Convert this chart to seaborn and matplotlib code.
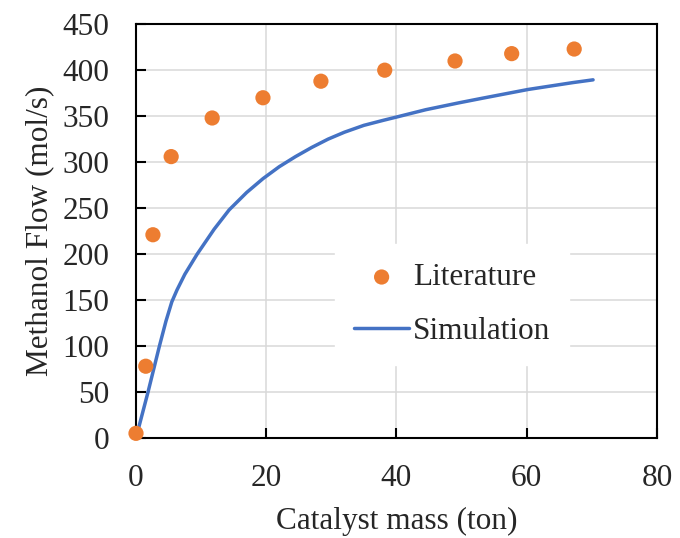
import numpy as np
import pandas as pd
import seaborn as sns
import matplotlib
matplotlib.use("Agg")
import matplotlib.pyplot as plt

## Data
lit_mass = [0, 1.5, 2.6, 5.4, 11.7, 19.5, 28.4, 38.2, 49.0, 57.7, 67.3]
lit_flow = [5, 78, 221, 306, 348, 370, 388, 400, 410, 418, 423]

sim_mass = [0, 1.85, 3.6, 4.6, 5.5, 6.3, 7.5, 9.4, 12.0, 14.3, 17.0, 19.5, 22.0, 24.5,
            27.0, 29.5, 32.0, 35.0, 38.0, 40.0, 44.5, 49.6, 53.2, 60.2, 67.1, 70.2]
sim_flow = [0, 50, 100, 127, 148, 161, 178, 200, 227, 248, 267, 282, 295, 306,
            316, 325, 332.5, 340, 345.5, 349, 357, 364.5, 369.5, 379, 386.5, 389.5]

lit = pd.DataFrame({'mass': lit_mass, 'flow': lit_flow})
sim = pd.DataFrame({'mass': sim_mass, 'flow': sim_flow})

sns.set_style('ticks')
plt.rcParams['font.family'] = ['Liberation Serif', 'DejaVu Serif']
fs = 22.5

fig = plt.figure(figsize=(6.8, 5.38), dpi=100)
ax = fig.add_axes([0.2, 0.186, 0.766, 0.769])

ax.grid(True, color='#d9d9d9', linewidth=1.1)
ax.set_axisbelow(True)

sns.lineplot(data=sim, x='mass', y='flow', color='#4472C4', linewidth=2.5,
             label='Simulation', ax=ax, zorder=2)
sns.scatterplot(data=lit, x='mass', y='flow', color='#ED7D31', s=120,
                edgecolor='none', label='Literature', ax=ax, zorder=3, clip_on=False)

ax.set_xlim(0, 80)
ax.set_ylim(0, 450)
ax.set_xticks(range(0, 81, 20))
ax.set_yticks(range(0, 451, 50))

for s in ax.spines.values():
    s.set_color('black')
    s.set_linewidth(1.5)

ax.tick_params(direction='in', length=7, width=1.5, labelsize=fs, color='black')
ax.tick_params(axis='x', pad=19)
ax.tick_params(axis='y', pad=19)

ax.set_xlabel('Catalyst mass (ton)', fontsize=fs, labelpad=10)
ax.set_ylabel('Methanol Flow (mol/s)', fontsize=fs, labelpad=6)

handles, labels = ax.get_legend_handles_labels()
order = [labels.index('Literature'), labels.index('Simulation')]
leg = ax.legend([handles[i] for i in order], [labels[i] for i in order],
                loc='center', bbox_to_anchor=(0.607, 0.322), fontsize=fs,
                frameon=True, fancybox=False, facecolor='white', edgecolor='white',
                framealpha=1, labelspacing=0.8, borderpad=0.6,
                handlelength=1.77, handletextpad=0.12)

fig.savefig('out.png', dpi=100)
